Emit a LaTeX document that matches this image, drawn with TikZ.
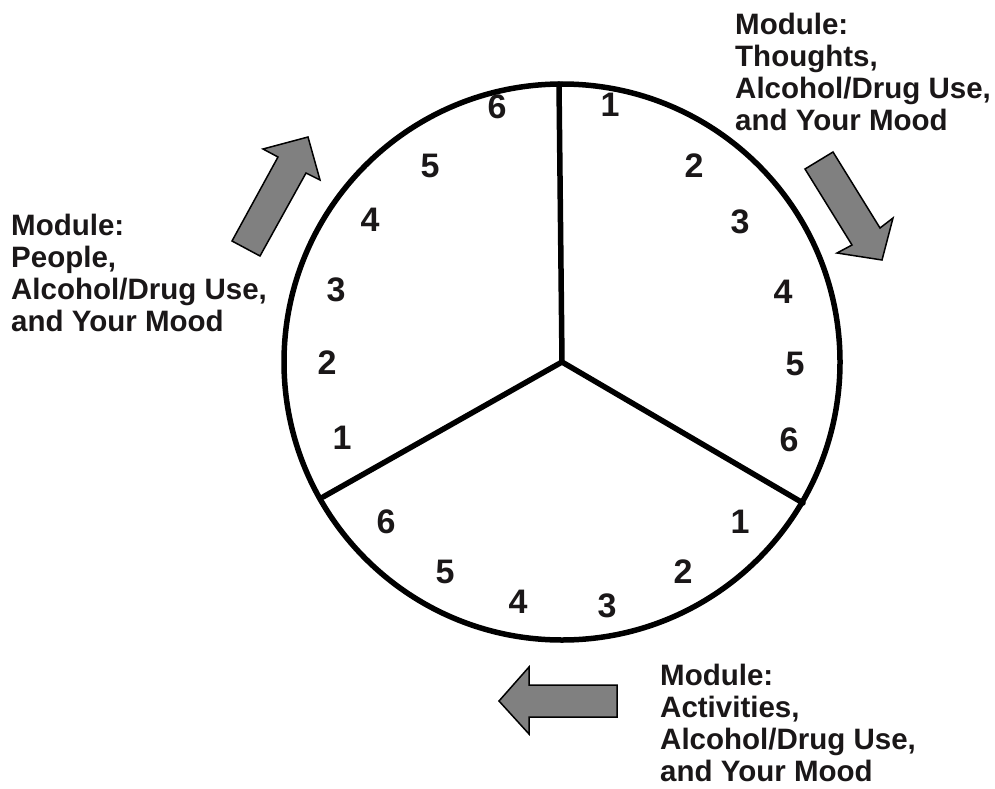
\documentclass[tikz,border=0pt]{standalone}
\usepackage{fontspec}
\setmainfont{Liberation Sans}
\definecolor{ink}{HTML}{1A1718}
\definecolor{arrowgray}{HTML}{808080}
\begin{document}
\begin{tikzpicture}[x=1pt,y=-1pt,
  wheelring/.style={circle, draw=black, line width=5.5pt, minimum size=556pt, inner sep=0pt},
  divider/.style={draw=black, line width=5.5pt, line cap=round, line join=round},
  num/.style={font=\fontsize{34}{34}\selectfont\bfseries, text=ink, inner sep=0pt},
  modlabel/.style={font=\fontsize{29.5}{32.3}\selectfont\bfseries, text=ink, align=left, inner sep=0pt, anchor=north west},
  bigarrow/.style={fill=arrowgray, draw=black, line width=1.5pt, line join=miter}]
\useasboundingbox (0,0) rectangle (995,789);

% wheel
\node[wheelring] (wheel) at (562,362) {};
\coordinate (c) at (562,362);
\coordinate (top) at (559,84);
\coordinate (left) at (323,497);
\coordinate (right) at (803,503);
\draw[divider] (top) -- (c) -- (right);
\draw[divider] (c) -- (left);

% numbers, upper right sector
\node[num] (r1) at (610,105) {1};
\node[num] (r2) at (694,166) {2};
\node[num] (r3) at (740,222) {3};
\node[num] (r4) at (783,292) {4};
\node[num] (r5) at (795,364) {5};
\node[num] (r6) at (789,440) {6};
% numbers, upper left sector
\node[num] (l6) at (497,107) {6};
\node[num] (l5) at (430,166) {5};
\node[num] (l4) at (370,220) {4};
\node[num] (l3) at (336,290) {3};
\node[num] (l2) at (327,363) {2};
\node[num] (l1) at (342,438) {1};
% numbers, bottom sector
\node[num] (b1) at (740,522) {1};
\node[num] (b2) at (683,572) {2};
\node[num] (b3) at (607,606) {3};
\node[num] (b4) at (518,602) {4};
\node[num] (b5) at (445,572) {5};
\node[num] (b6) at (386,522) {6};

% arrows
\draw[bigarrow] (232,241) -- (278,157) -- (263,149) -- (308,137) -- (320,180) -- (306,173) -- (260,256) -- cycle;
\draw[bigarrow] (805,169) -- (852,245) -- (837,253) -- (882,260) -- (893,218) -- (880,228) -- (833,152) -- cycle;
\draw[bigarrow] (617,685) -- (529,685) -- (529,667) -- (499,701) -- (529,734) -- (529,717) -- (617,717) -- cycle;

% labels
\node[modlabel] (modpeople) at (11,213.5) {Module:\\People,\\Alcohol/Drug Use,\\and Your Mood};
\node[modlabel] (modthoughts) at (735,12.5) {Module:\\Thoughts,\\Alcohol/Drug Use,\\and Your Mood};
\node[modlabel] (modactivities) at (660,663.5) {Module:\\Activities,\\Alcohol/Drug Use,\\and Your Mood};
\end{tikzpicture}
\end{document}
